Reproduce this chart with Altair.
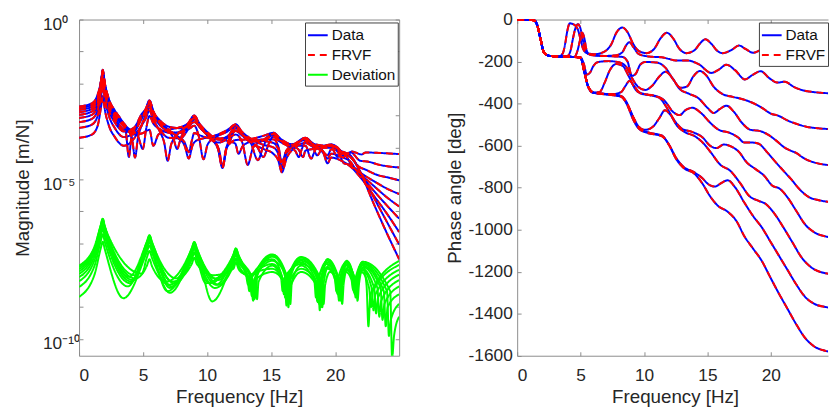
import altair as alt
import pandas as pd

FONT = "Liberation Sans"
TXT = "#262626"
AXC = "#8c8c8c"

FREQ_TICKS = [0, 5, 10, 15, 20]
MAG_TICKS = [1e-10, 1e-5, 1]
MAG_MINOR = [1e-10, 1e-9, 1e-8, 1e-7, 1e-6, 1e-5, 1e-4, 1e-3, 1e-2, 1e-1, 1]
PHASE_TICKS = [0, -200, -400, -600, -800, -1000, -1200, -1400, -1600]
SERIES_LEFT = ["Data", "FRVF", "Deviation"]
SERIES_RIGHT = ["Data", "FRVF"]
CURVES = ["k9", "k8", "k7", "k6", "k5", "k4", "k3", "k2", "k1"]

# ---- magnitude, log10 [m/N], (frequency Hz, log10 value) ----
mag_k9 = [(0,-2.72),(1.0,-2.62),(1.45,-2.35),(1.7,-1.95),(1.78,-1.74),(1.85,-1.57),(1.93,-1.75),(2.0,-1.95),(2.3,-2.45),(2.8,-2.85),(3.3,-3.15),(3.65,-3.5),(3.89,-4.3),(4.1,-3.65),(4.5,-3.3),(4.9,-3.05),(5.2,-2.85),(5.5,-2.54),(5.8,-2.88),(6.3,-3.2),(6.9,-3.45),(7.35,-3.7),(7.66,-4.05),(7.95,-3.7),(8.5,-3.35),(8.75,-3.22),(9.0,-3.04),(9.3,-3.25),(9.8,-3.5),(10.5,-3.8),(10.95,-4.1),(11.2,-4.6),(11.45,-4.1),(11.9,-3.7),(12.25,-3.36),(12.6,-3.55),(13.2,-3.78),(13.9,-3.98),(14.4,-4.3),(14.8,-3.9),(15.17,-3.67),(15.6,-3.8),(16.4,-3.98),(16.9,-4.12),(17.16,-4.3),(17.4,-4.05),(17.68,-3.81),(18.2,-3.92),(18.9,-4.05),(19.4,-4.25),(19.7,-4.06),(20.3,-4.1),(21.05,-4.2),(21.3,-4.13),(22.06,-4.22),(22.4,-4.16),(23.2,-4.17),(24.2,-4.19),(25,-4.21)]
mag_k8 = [(0,-2.77),(1.0,-2.67),(1.45,-2.40),(1.7,-1.96),(1.78,-1.75),(1.85,-1.58),(1.93,-1.76),(2.0,-1.96),(2.3,-2.46),(2.8,-2.88),(3.3,-3.15),(3.8,-3.42),(4.15,-3.75),(4.37,-4.32),(4.6,-3.7),(4.9,-3.3),(5.2,-2.98),(5.5,-2.66),(5.8,-3.0),(6.3,-3.3),(7.0,-3.5),(7.7,-3.65),(8.25,-3.85),(8.57,-4.15),(8.8,-3.8),(9.0,-3.55),(9.3,-3.6),(10.0,-3.7),(10.8,-3.75),(11.6,-3.8),(12.2,-3.88),(12.45,-4.2),(12.8,-3.95),(13.6,-3.8),(14.5,-3.75),(15.17,-3.75),(15.55,-3.95),(15.84,-4.45),(16.2,-4.1),(16.9,-3.9),(17.68,-3.73),(18.2,-3.9),(18.6,-4.25),(19.0,-4.02),(19.7,-3.92),(20.3,-4.05),(20.7,-4.28),(21.19,-4.15),(21.97,-4.42),(22.6,-4.45),(23.5,-4.55),(25,-4.63)]
mag_k7 = [(0,-2.83),(1.0,-2.73),(1.45,-2.46),(1.7,-1.99),(1.78,-1.78),(1.85,-1.61),(1.93,-1.79),(2.0,-1.99),(2.3,-2.5),(2.8,-2.92),(3.4,-3.25),(4.0,-3.45),(4.6,-3.65),(4.98,-4.05),(5.25,-3.4),(5.5,-3.02),(5.8,-3.25),(6.4,-3.45),(7.2,-3.55),(8.0,-3.5),(8.6,-3.42),(9.0,-3.32),(9.35,-3.65),(9.72,-4.37),(10.05,-3.9),(10.8,-3.65),(11.6,-3.5),(12.25,-3.29),(12.7,-3.55),(13.4,-3.85),(13.97,-4.4),(14.4,-3.95),(15.17,-3.62),(15.7,-3.8),(16.5,-3.95),(17.1,-4.05),(17.5,-4.3),(17.68,-4.1),(18.3,-4.05),(19.0,-4.02),(19.7,-4.01),(20.2,-4.3),(20.6,-4.2),(21.19,-4.3),(21.84,-4.6),(22.4,-4.7),(23.2,-4.85),(24.2,-4.95),(25,-5.03)]
mag_k6 = [(0,-2.90),(1.0,-2.80),(1.45,-2.53),(1.7,-2.03),(1.78,-1.82),(1.85,-1.65),(1.93,-1.83),(2.0,-2.03),(2.3,-2.55),(2.8,-2.98),(3.5,-3.35),(4.3,-3.6),(5.0,-3.55),(5.5,-3.45),(5.8,-3.95),(6.2,-3.6),(7.0,-3.45),(7.8,-3.38),(8.5,-3.25),(9.0,-3.01),(9.4,-3.3),(10.1,-3.65),(10.8,-3.95),(11.2,-4.6),(11.55,-3.95),(12.25,-3.49),(12.7,-3.62),(13.5,-3.75),(14.4,-3.8),(15.17,-3.86),(15.55,-4.05),(15.84,-4.6),(16.2,-4.1),(16.9,-3.88),(17.68,-3.70),(18.3,-3.9),(19.0,-4.1),(19.4,-4.35),(19.7,-4.2),(20.5,-4.3),(21.19,-4.45),(21.64,-4.7),(22.3,-4.88),(23.0,-5.05),(24.0,-5.28),(25,-5.46)]
mag_k5 = [(0,-2.98),(1.0,-2.88),(1.45,-2.61),(1.7,-2.09),(1.78,-1.88),(1.85,-1.71),(1.93,-1.89),(2.0,-2.09),(2.3,-2.6),(2.8,-3.05),(3.5,-3.45),(4.3,-3.55),(4.9,-3.3),(5.2,-3.05),(5.5,-2.74),(5.8,-3.1),(6.3,-3.5),(6.65,-3.85),(6.92,-4.42),(7.2,-3.9),(7.8,-3.55),(8.5,-3.3),(9.0,-3.08),(9.4,-3.35),(10.1,-3.6),(11.0,-3.72),(11.7,-3.68),(12.25,-3.6),(12.75,-3.85),(13.17,-4.55),(13.6,-4.0),(14.3,-3.8),(15.17,-3.58),(15.7,-3.78),(16.5,-3.9),(17.2,-3.95),(17.68,-3.95),(18.12,-4.35),(18.5,-4.05),(19.2,-3.95),(19.7,-3.91),(20.4,-4.1),(21.0,-4.35),(21.3,-4.6),(21.7,-4.7),(22.3,-4.95),(23.0,-5.2),(24.0,-5.55),(25,-5.85)]
mag_k4 = [(0,-3.08),(1.0,-2.98),(1.45,-2.71),(1.7,-2.17),(1.78,-1.96),(1.85,-1.79),(1.93,-1.97),(2.0,-2.17),(2.3,-2.68),(2.8,-3.13),(3.5,-3.5),(4.3,-3.45),(4.9,-3.05),(5.2,-2.85),(5.5,-2.57),(5.8,-2.9),(6.3,-3.2),(7.0,-3.45),(7.7,-3.7),(8.25,-3.95),(8.57,-4.35),(8.85,-3.95),(9.2,-3.78),(9.9,-3.7),(10.8,-3.6),(11.6,-3.45),(12.25,-3.28),(12.7,-3.5),(13.5,-3.75),(14.4,-3.92),(15.17,-4.0),(15.55,-4.2),(15.84,-4.7),(16.2,-4.2),(16.9,-3.92),(17.68,-3.74),(18.4,-3.9),(19.2,-3.95),(19.7,-3.97),(20.3,-4.2),(20.7,-4.5),(21.19,-4.55),(22.1,-4.92),(23.0,-5.35),(24.0,-5.8),(25,-6.23)]
mag_k3 = [(0,-3.21),(1.0,-3.11),(1.45,-2.84),(1.7,-2.28),(1.78,-2.07),(1.85,-1.90),(1.93,-2.08),(2.0,-2.28),(2.3,-2.8),(2.8,-3.22),(3.5,-3.5),(4.3,-3.38),(4.9,-2.95),(5.2,-2.8),(5.5,-2.53),(5.8,-2.87),(6.3,-3.15),(7.0,-3.35),(7.9,-3.4),(8.5,-3.35),(9.0,-3.21),(9.5,-3.4),(10.2,-3.7),(10.85,-4.05),(11.2,-4.65),(11.55,-4.0),(12.25,-3.77),(13.2,-3.75),(14.3,-3.65),(15.17,-3.55),(15.8,-3.75),(16.6,-3.9),(17.68,-3.77),(18.5,-4.0),(19.1,-4.2),(19.4,-4.5),(19.7,-4.32),(20.5,-4.42),(21.19,-4.6),(22.1,-5.0),(23.0,-5.5),(24.0,-6.05),(25,-6.65)]
mag_k2 = [(0,-3.39),(1.0,-3.29),(1.45,-3.02),(1.7,-2.45),(1.78,-2.24),(1.85,-2.07),(1.93,-2.25),(2.0,-2.45),(2.3,-2.97),(2.8,-3.4),(3.5,-3.68),(4.3,-3.52),(4.9,-3.1),(5.2,-2.9),(5.5,-2.61),(5.8,-2.95),(6.3,-3.25),(7.0,-3.5),(7.9,-3.55),(8.5,-3.3),(9.0,-3.0),(9.4,-3.25),(10.1,-3.55),(10.9,-3.75),(11.6,-3.65),(12.25,-3.41),(12.8,-3.65),(13.6,-3.9),(14.4,-4.05),(15.17,-4.2),(15.55,-4.4),(15.84,-4.78),(16.2,-4.35),(16.9,-4.0),(17.68,-3.86),(18.5,-4.02),(19.7,-3.92),(20.5,-4.18),(21.19,-4.3),(22.1,-4.85),(23.0,-5.55),(24.0,-6.3),(25,-7.04)]
mag_k1 = [(0,-3.70),(1.0,-3.60),(1.45,-3.33),(1.7,-2.78),(1.78,-2.57),(1.85,-2.40),(1.93,-2.58),(2.0,-2.78),(2.3,-3.28),(2.8,-3.68),(3.5,-3.95),(4.3,-3.72),(4.9,-3.3),(5.2,-3.1),(5.5,-2.85),(5.8,-3.15),(6.3,-3.45),(7.0,-3.7),(7.9,-3.72),(8.5,-3.45),(9.0,-3.13),(9.4,-3.35),(10.1,-3.65),(10.9,-3.85),(11.6,-3.7),(12.25,-3.32),(12.8,-3.6),(13.6,-3.82),(14.4,-3.8),(15.17,-3.54),(15.8,-3.8),(16.6,-3.98),(17.68,-3.71),(18.5,-3.98),(19.7,-3.94),(20.5,-4.12),(21.19,-4.25),(22.1,-4.9),(23.0,-5.75),(24.0,-6.65),(25,-7.5)]

# ---- deviation, log10 [m/N] ----
dev_k9 = [(0,-7.70),(1.2,-7.11),(1.7,-6.43),(1.85,-6.23),(2.0,-6.45),(3.9,-8.05),(5.3,-6.96),(5.5,-6.76),(5.7,-6.98),(7.6,-8.1),(8.8,-7.2),(9.0,-7.0),(9.2,-7.2),(10.9,-8.15),(12.05,-7.44),(12.25,-7.24),(12.45,-7.45),(13.55,-8.2),(13.7,-8.6),(13.82,-7.9),(15.1,-7.35),(16.18,-7.98),(16.3,-8.9),(16.42,-7.98),(17.35,-7.43),(18.78,-8.05),(18.9,-9.0),(19.02,-8.05),(19.4,-7.5),(20.23,-8.05),(20.35,-8.7),(20.47,-8.1),(20.9,-7.55),(21.48,-8.13),(21.6,-8.6),(21.72,-8.13),(22.15,-7.58),(24.3,-8.5),(24.45,-10.6),(24.6,-9.9),(25,-9.3)]
dev_k8 = [(0,-7.75),(1.2,-7.15),(1.7,-6.44),(1.85,-6.24),(2.0,-6.46),(4.35,-8.0),(5.3,-7.08),(5.5,-6.88),(5.7,-7.1),(7.3,-8.2),(8.8,-7.65),(9.0,-7.45),(9.2,-7.65),(10.5,-8.0),(12.05,-7.8),(12.25,-7.6),(12.45,-7.8),(13.25,-8.1),(13.4,-8.4),(13.52,-8.0),(15.1,-7.5),(15.88,-8.1),(16.0,-8.6),(16.12,-8.1),(17.35,-7.6),(18.48,-8.15),(18.6,-8.8),(18.72,-8.1),(19.4,-7.55),(19.98,-8.1),(20.1,-8.5),(20.22,-8.12),(20.9,-7.6),(21.33,-8.15),(21.45,-8.5),(21.57,-8.15),(22.15,-7.62),(24.05,-8.5),(24.2,-9.9),(24.35,-9.4),(25,-8.9)]
dev_k7 = [(0,-7.81),(1.2,-7.19),(1.7,-6.47),(1.85,-6.27),(2.0,-6.49),(4.9,-7.95),(5.3,-7.44),(5.5,-7.24),(5.7,-7.46),(7.0,-8.3),(8.8,-7.48),(9.0,-7.28),(9.2,-7.48),(9.9,-8.25),(12.05,-7.37),(12.25,-7.17),(12.45,-7.38),(13.65,-8.25),(13.8,-8.7),(13.92,-8.0),(15.1,-7.42),(16.28,-8.1),(16.4,-8.8),(16.52,-8.05),(17.35,-7.5),(18.63,-8.15),(18.75,-8.9),(18.87,-8.15),(19.4,-7.6),(20.33,-8.2),(20.45,-8.8),(20.57,-8.2),(20.9,-7.65),(21.58,-8.2),(21.7,-8.7),(21.82,-8.2),(22.15,-7.65),(23.8,-8.5),(23.95,-9.6),(24.1,-9.0),(25,-8.6)]
dev_k6 = [(0,-7.88),(1.2,-7.25),(1.7,-6.51),(1.85,-6.31),(2.0,-6.53),(4.4,-8.1),(5.3,-7.7),(5.5,-7.5),(5.7,-7.72),(6.8,-8.2),(8.8,-7.17),(9.0,-6.97),(9.2,-7.17),(10.9,-8.3),(12.05,-7.57),(12.25,-7.37),(12.45,-7.57),(13.15,-8.1),(13.3,-8.5),(13.42,-8.1),(15.1,-7.65),(15.98,-8.2),(16.1,-8.7),(16.22,-8.15),(17.35,-7.55),(18.88,-8.2),(19.0,-9.0),(19.12,-8.2),(19.5,-7.7),(20.08,-8.2),(20.2,-8.6),(20.32,-8.2),(20.9,-7.7),(21.43,-8.2),(21.55,-8.6),(21.67,-8.2),(22.15,-7.7),(23.55,-8.4),(23.7,-9.4),(23.85,-8.9),(25,-8.35)]
dev_k5 = [(0,-7.96),(1.2,-7.32),(1.7,-6.56),(1.85,-6.36),(2.0,-6.58),(4.2,-8.15),(5.3,-7.16),(5.5,-6.96),(5.7,-7.18),(6.9,-8.5),(8.8,-7.24),(9.0,-7.04),(9.2,-7.24),(10.6,-8.1),(12.05,-7.68),(12.25,-7.48),(12.45,-7.68),(13.45,-8.35),(13.6,-8.8),(13.72,-8.1),(15.1,-7.55),(16.38,-8.2),(16.5,-8.9),(16.62,-8.2),(17.35,-7.7),(18.38,-8.2),(18.5,-8.7),(18.62,-8.2),(19.4,-7.65),(20.43,-8.25),(20.55,-8.9),(20.67,-8.25),(21.0,-7.75),(21.63,-8.25),(21.75,-8.8),(21.87,-8.25),(22.2,-7.75),(23.3,-8.4),(23.45,-9.3),(23.6,-8.8),(25,-8.15)]
dev_k4 = [(0,-8.06),(1.2,-7.41),(1.7,-6.64),(1.85,-6.44),(2.0,-6.66),(4.1,-8.2),(5.3,-6.99),(5.5,-6.79),(5.7,-7.01),(7.2,-8.35),(8.8,-7.5),(9.0,-7.3),(9.2,-7.5),(10.2,-8.25),(12.05,-7.36),(12.25,-7.16),(12.45,-7.36),(13.05,-8.0),(13.2,-8.3),(13.32,-8.0),(15.1,-7.8),(16.08,-8.3),(16.2,-8.95),(16.32,-8.3),(17.35,-7.8),(18.68,-8.3),(18.8,-9.1),(18.92,-8.3),(19.4,-7.8),(20.18,-8.25),(20.3,-8.7),(20.42,-8.25),(20.9,-7.8),(21.38,-8.2),(21.5,-8.55),(21.62,-8.2),(22.1,-7.8),(23.05,-8.4),(23.2,-9.2),(23.35,-8.7),(25,-7.98)]
dev_k3 = [(0,-8.19),(1.2,-7.53),(1.7,-6.75),(1.85,-6.55),(2.0,-6.77),(4.0,-8.25),(5.3,-6.95),(5.5,-6.75),(5.7,-6.97),(7.4,-8.25),(8.8,-7.37),(9.0,-7.17),(9.2,-7.37),(10.6,-8.4),(12.05,-7.7),(12.25,-7.5),(12.45,-7.7),(13.75,-8.35),(13.9,-8.75),(14.02,-8.2),(15.1,-7.7),(15.78,-8.1),(15.9,-8.5),(16.02,-8.1),(17.35,-7.65),(18.98,-8.3),(19.1,-8.9),(19.22,-8.3),(19.6,-7.9),(20.28,-8.3),(20.4,-8.75),(20.52,-8.3),(20.95,-7.85),(21.53,-8.25),(21.65,-8.65),(21.77,-8.25),(22.15,-7.85),(22.85,-8.4),(23.0,-9.1),(23.15,-8.6),(25,-7.83)]
dev_k2 = [(0,-8.37),(1.2,-7.71),(1.7,-6.92),(1.85,-6.72),(2.0,-6.94),(3.8,-8.35),(5.3,-7.03),(5.5,-6.83),(5.7,-7.05),(7.1,-8.4),(8.8,-7.16),(9.0,-6.96),(9.2,-7.16),(10.4,-8.82),(12.05,-7.49),(12.25,-7.29),(12.45,-7.49),(13.35,-8.25),(13.5,-8.65),(13.62,-8.2),(15.1,-7.9),(16.23,-8.4),(16.35,-9.0),(16.47,-8.4),(17.35,-7.9),(18.53,-8.3),(18.65,-8.85),(18.77,-8.3),(19.4,-7.75),(20.03,-8.2),(20.15,-8.55),(20.27,-8.2),(20.85,-7.9),(21.28,-8.15),(21.4,-8.45),(21.52,-8.15),(22.05,-7.9),(22.65,-8.4),(22.8,-9.0),(22.95,-8.5),(25,-7.68)]
dev_k1 = [(0,-8.68),(1.2,-7.99),(1.7,-7.15),(1.85,-6.95),(2.0,-7.17),(3.46,-8.72),(5.3,-7.27),(5.5,-7.07),(5.7,-7.29),(7.1,-8.55),(8.8,-7.29),(9.0,-7.09),(9.2,-7.29),(10.7,-8.3),(12.05,-7.4),(12.25,-7.2),(12.45,-7.4),(13.55,-8.3),(13.7,-8.75),(13.82,-8.1),(15.1,-7.37),(16.13,-8.1),(16.25,-8.85),(16.37,-8.1),(17.35,-7.45),(18.73,-8.15),(18.85,-8.95),(18.97,-8.15),(19.4,-7.5),(20.18,-8.1),(20.3,-8.8),(20.42,-8.1),(20.9,-7.58),(21.48,-8.15),(21.6,-8.7),(21.72,-8.15),(22.1,-7.6),(22.45,-8.3),(22.6,-9.6),(22.75,-8.6),(25,-7.55)]

# ---- phase angle [deg] ----
ph_k9 = [(0,0),(1.3,-3),(1.6,-30),(1.85,-95),(2.1,-155),(2.5,-172),(3.3,-176),(3.6,-160),(3.8,-110),(3.95,-55),(4.15,-18),(4.5,-25),(4.8,-50),(5.0,-95),(5.2,-140),(5.5,-160),(6.1,-165),(6.8,-155),(7.4,-120),(7.85,-60),(8.3,-38),(8.7,-60),(9.1,-110),(9.6,-150),(10.2,-160),(10.8,-140),(11.3,-90),(11.8,-63),(12.3,-90),(12.8,-140),(13.35,-160),(14.0,-145),(14.4,-115),(14.85,-94),(15.3,-115),(15.8,-150),(16.2,-160),(16.9,-145),(17.5,-124),(18.0,-140),(18.6,-158),(19.5,-140),(20.4,-165),(21.6,-155),(22.6,-165),(23.5,-172),(25,-176)]
ph_k8 = [(0,0),(1.3,-3),(1.6,-30),(1.85,-95),(2.1,-155),(2.5,-172),(3.5,-177),(4.0,-172),(4.2,-150),(4.4,-90),(4.6,-40),(4.8,-22),(5.0,-45),(5.15,-90),(5.35,-140),(5.6,-163),(6.2,-170),(7.0,-173),(7.8,-170),(8.3,-155),(8.6,-122),(8.85,-108),(9.15,-130),(9.6,-165),(10.4,-176),(11.4,-180),(12.0,-188),(12.5,-195),(13.4,-195),(14.3,-212),(15.3,-254),(15.9,-238),(16.5,-215),(17.2,-242),(17.95,-285),(18.6,-262),(19.2,-246),(19.9,-280),(20.5,-300),(21.1,-296),(21.8,-320),(22.6,-338),(23.5,-346),(25,-352)]
ph_k7 = [(0,0),(1.3,-3),(1.6,-30),(1.85,-95),(2.1,-155),(2.5,-172),(3.5,-177),(4.5,-178),(4.75,-150),(4.95,-100),(5.13,-63),(5.3,-90),(5.45,-140),(5.65,-165),(6.2,-172),(7.5,-175),(8.3,-178),(8.7,-200),(9.05,-268),(9.35,-258),(9.7,-215),(10.1,-202),(11.0,-205),(11.7,-230),(12.3,-285),(12.9,-325),(13.4,-318),(13.9,-270),(14.4,-245),(14.9,-265),(15.5,-320),(16.2,-355),(17.0,-368),(17.7,-378),(18.5,-395),(19.3,-420),(20.0,-448),(20.6,-458),(21.3,-480),(22.0,-496),(22.8,-510),(23.8,-518),(25,-522)]
ph_k6 = [(0,0),(1.3,-3),(1.6,-30),(1.85,-95),(2.1,-155),(2.5,-172),(3.5,-177),(4.5,-178),(5.0,-180),(5.25,-210),(5.5,-262),(5.75,-252),(6.0,-222),(6.4,-202),(7.2,-198),(8.0,-203),(8.6,-225),(9.0,-272),(9.5,-318),(10.1,-335),(10.6,-318),(11.2,-272),(11.7,-248),(12.2,-275),(12.8,-330),(13.5,-352),(14.3,-375),(15.0,-420),(15.5,-445),(16.0,-425),(16.5,-410),(17.1,-440),(17.7,-490),(18.4,-525),(19.1,-530),(19.7,-545),(20.4,-575),(21.1,-610),(21.6,-625),(22.0,-635),(22.6,-660),(23.4,-680),(24.2,-690),(25,-695)]
ph_k5 = [(0,0),(1.3,-3),(1.6,-30),(1.85,-95),(2.1,-155),(2.5,-172),(3.5,-177),(4.5,-178),(5.0,-182),(5.3,-250),(5.6,-320),(6.0,-348),(6.5,-345),(6.9,-300),(7.3,-242),(7.8,-212),(8.3,-220),(8.8,-270),(9.3,-330),(9.9,-355),(10.8,-362),(11.6,-385),(12.3,-440),(12.8,-455),(13.3,-430),(13.8,-420),(14.5,-445),(15.2,-490),(15.9,-525),(16.7,-538),(17.4,-560),(17.9,-585),(18.4,-585),(19.0,-590),(19.7,-631),(20.4,-680),(21.0,-720),(21.6,-760),(22.3,-810),(23.0,-845),(23.8,-860),(25,-870)]
ph_k4 = [(0,0),(1.3,-3),(1.6,-30),(1.85,-95),(2.1,-155),(2.5,-172),(3.5,-177),(4.5,-178),(5.0,-182),(5.3,-250),(5.6,-320),(6.0,-348),(7.5,-355),(8.2,-345),(8.55,-315),(8.85,-292),(9.15,-310),(9.6,-345),(10.3,-358),(11.2,-372),(11.8,-420),(12.4,-480),(13.0,-520),(13.8,-535),(14.6,-560),(15.2,-600),(15.7,-612),(16.3,-595),(16.9,-605),(17.5,-631),(18.1,-680),(18.8,-712),(19.5,-745),(20.1,-790),(20.7,-805),(21.3,-845),(22.0,-910),(22.7,-975),(23.5,-1015),(24.3,-1032),(25,-1040)]
ph_k3 = [(0,0),(1.3,-3),(1.6,-30),(1.85,-95),(2.1,-155),(2.5,-172),(3.5,-177),(4.5,-178),(5.0,-182),(5.3,-250),(5.6,-320),(6.0,-348),(8.0,-360),(8.6,-390),(9.0,-445),(9.5,-505),(10.1,-525),(10.7,-510),(11.2,-470),(11.65,-432),(12.1,-455),(12.6,-505),(13.2,-535),(14.0,-555),(14.7,-590),(15.3,-635),(16.0,-690),(16.8,-720),(17.6,-780),(18.3,-840),(19.0,-862),(19.6,-878),(20.3,-925),(21.0,-990),(21.7,-1060),(22.4,-1130),(23.2,-1180),(24.0,-1203),(25,-1212)]
ph_k2 = [(0,0),(1.3,-3),(1.6,-30),(1.85,-95),(2.1,-155),(2.5,-172),(3.5,-177),(4.5,-178),(5.0,-182),(5.3,-250),(5.6,-320),(6.0,-348),(8.2,-365),(8.7,-405),(9.2,-470),(9.7,-520),(10.4,-538),(11.4,-552),(12.0,-598),(12.5,-655),(13.1,-700),(13.9,-725),(14.6,-755),(15.1,-785),(15.6,-795),(16.1,-778),(16.6,-765),(17.2,-800),(17.9,-870),(18.6,-935),(19.3,-990),(19.9,-1050),(20.6,-1120),(21.3,-1190),(22.0,-1260),(22.7,-1320),(23.5,-1355),(24.3,-1368),(25,-1375)]
ph_k1 = [(0,0),(1.3,-3),(1.6,-30),(1.85,-95),(2.1,-155),(2.5,-172),(3.5,-177),(4.5,-178),(5.0,-182),(5.3,-250),(5.6,-318),(6.0,-346),(7.0,-356),(8.2,-368),(8.7,-410),(9.1,-470),(9.6,-520),(10.3,-540),(11.4,-555),(12.0,-600),(12.5,-660),(13.1,-705),(14.0,-735),(14.6,-780),(15.2,-840),(15.8,-885),(16.6,-915),(17.3,-960),(17.9,-1030),(18.6,-1090),(19.3,-1150),(19.9,-1220),(20.6,-1300),(21.3,-1375),(22.0,-1450),(22.7,-1515),(23.4,-1555),(24.2,-1575),(25,-1585)]

MAG = [mag_k9, mag_k8, mag_k7, mag_k6, mag_k5, mag_k4, mag_k3, mag_k2, mag_k1]
DEV = [dev_k9, dev_k8, dev_k7, dev_k6, dev_k5, dev_k4, dev_k3, dev_k2, dev_k1]
PH = [ph_k9, ph_k8, ph_k7, ph_k6, ph_k5, ph_k4, ph_k3, ph_k2, ph_k1]

PLOT_H = 340.7


def table(curves, series, logvals):
    rows = []
    for name, pts in zip(CURVES, curves):
        for f, v in pts:
            rows.append({"f": f, "v": (10.0 ** v) if logvals else v, "curve": name, "series": series})
    return rows


left_df = pd.DataFrame(table(MAG, "Data", True) + table(MAG, "FRVF", True) + table(DEV, "Deviation", True))
right_df = pd.DataFrame(table(PH, "Data", False) + table(PH, "FRVF", False))


def legend(x, y):
    return alt.Legend(title=None, orient="none", legendX=x, legendY=y, symbolType="stroke",
                      symbolSize=400, symbolStrokeWidth=2, labelFontSize=15.5, labelFont=FONT,
                      labelColor="#111111", labelOffset=3, rowPadding=0, padding=2,
                      strokeColor="#404040", fillColor="white", labelLimit=200)


def axis_common(**kw):
    base = dict(grid=False, ticks=False, tickSize=0, domainColor=AXC, domainWidth=1,
                labelFont=FONT, labelFontSize=17.5, labelColor=TXT,
                titleFont=FONT, titleFontSize=19, titleFontWeight="normal", titleColor=TXT)
    base.update(kw)
    return alt.Axis(**base)


def tick_axis(orient, offset, values):
    # inward-pointing tick marks only (axis placed on the opposite edge)
    return alt.Axis(orient=orient, offset=offset, values=values, labels=False, domain=False,
                    ticks=True, tickSize=4, tickColor=AXC, tickWidth=1, grid=False, title=None)


def panel(df, series, colors, dashes, xdom, width, ydom, ytype, y_main_axis, y_ticks,
          x_title_x, legx, right_box):
    xs = alt.Scale(domain=xdom, nice=False, zero=False)
    if ytype == "log":
        ys = alt.Scale(type="log", domain=ydom, nice=False)
    else:
        ys = alt.Scale(domain=ydom, nice=False, zero=False)
    cs = alt.Scale(domain=series, range=colors)
    ds = alt.Scale(domain=series, range=dashes)
    lg = legend(legx, 3)
    x_bottom = axis_common(orient="bottom", values=FREQ_TICKS, title="Frequency [Hz]",
                           labelBaseline="alphabetic", labelPadding=25,
                           titleBaseline="alphabetic", titleY=47.3, titleX=x_title_x)
    x_top = axis_common(orient="top", values=FREQ_TICKS, labels=False, title=None)
    y_right = axis_common(orient="right", labels=False, title=None,
                          domainOpacity=1 if right_box else 0)

    layers = []
    for i, s in enumerate(series):
        if i == 0:
            xa, ya = x_bottom, y_main_axis
        elif i == 1:
            xa, ya = x_top, y_right
        else:
            xa, ya = None, None
        enc = dict(
            x=alt.X("f:Q", scale=xs, axis=xa),
            y=alt.Y("v:Q", scale=ys, axis=ya),
            color=alt.Color("series:N", scale=cs, legend=lg),
            strokeDash=alt.StrokeDash("series:N", scale=ds, legend=lg),
            detail="curve:N",
        )
        layer = (alt.Chart(df)
                 .transform_filter(alt.datum.series == s)
                 .mark_line(strokeWidth=2, interpolate="monotone", clip=True)
                 .encode(**enc))
        layers.append(layer)

    # invisible layers that only carry inward tick marks on the four edges
    t1 = (alt.Chart(df).mark_line(strokeOpacity=0, clip=True)
          .encode(x=alt.X("f:Q", scale=xs, axis=tick_axis("top", -PLOT_H, FREQ_TICKS)),
                  y=alt.Y("v:Q", scale=ys, axis=tick_axis("right", -width, y_ticks)),
                  detail="curve:N"))
    t2_y = alt.Y("v:Q", scale=ys, axis=tick_axis("left", -width, y_ticks) if right_box else None)
    t2 = (alt.Chart(df).mark_line(strokeOpacity=0, clip=True)
          .encode(x=alt.X("f:Q", scale=xs, axis=tick_axis("bottom", -PLOT_H, FREQ_TICKS)),
                  y=t2_y, detail="curve:N"))
    layers += [t1, t2]
    return alt.layer(*layers).properties(width=width, height=PLOT_H)


mag_axis = axis_common(orient="left", values=MAG_TICKS, title="Magnitude [m/N]",
                       labelExpr="datum.value > 0.5 ? '10⁰' : (datum.value > 1e-7 ? '10⁻⁵' : '10⁻¹⁰')",
                       labelAlign="left", labelPadding=37, labelBaseline="alphabetic", labelOffset=10,
                       titleX=-51.3, titleY=170.35, titleAngle=270, titleBaseline="alphabetic",
                       titleAlign="center")
ph_axis = axis_common(orient="left", values=PHASE_TICKS, title="Phase angle [deg]",
                      labelExpr="datum.value + ''", labelPadding=5,
                      titleX=-57.9, titleY=170.35, titleAngle=270, titleBaseline="alphabetic",
                      titleAlign="center")

left = panel(left_df, SERIES_LEFT, ["#0000ff", "#ff0000", "#00ff00"], [[1, 0], [7, 5], [1, 0]],
             [0, 25], 324.4, [10 ** -10.52, 1], "log", mag_axis, MAG_MINOR, 162.2, 229, True)
right = panel(right_df, SERIES_RIGHT, ["#0000ff", "#ff0000"], [[1, 0], [7, 5]],
              [0, 24.51], 315, [-1600, 0], "linear", ph_axis, PHASE_TICKS, 160, 245, False)

chart = (alt.hconcat(left, right, spacing=119, bounds="flush")
         .resolve_scale(color="independent", strokeDash="independent", x="independent", y="independent")
         .resolve_legend(color="independent", strokeDash="independent")
         .properties(padding={"left": 5, "top": 0, "right": 0, "bottom": 0}, background="white")
         .configure(font=FONT)
         .configure_view(strokeWidth=0))

chart.save("out.html", embed_options={"renderer": "svg", "actions": False})
